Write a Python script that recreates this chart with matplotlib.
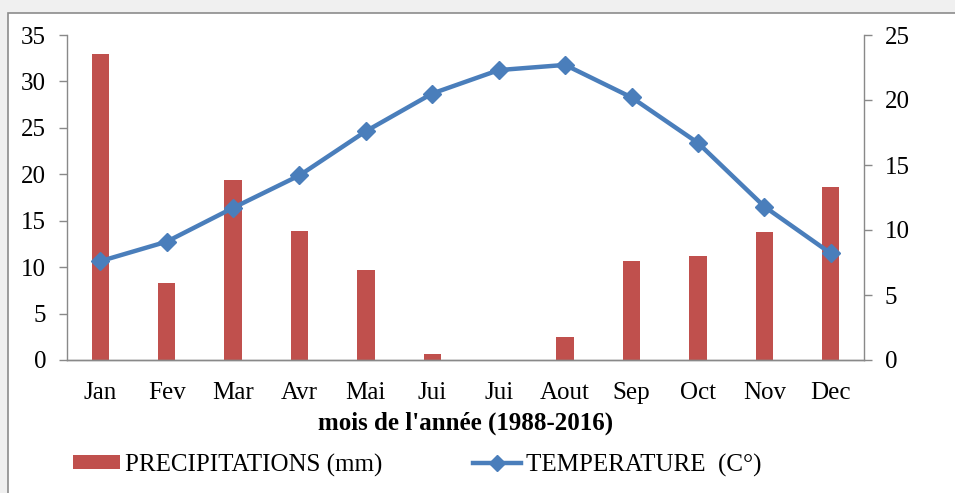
import matplotlib
matplotlib.use("Agg")
import matplotlib.pyplot as plt
from matplotlib.patches import Rectangle
from matplotlib.lines import Line2D
from matplotlib.patches import Patch

months = ["Jan", "Fev", "Mar", "Avr", "Mai", "Jui", "Jui", "Aout", "Sep", "Oct", "Nov", "Dec"]
precipitation = [33.0, 8.3, 19.4, 13.9, 9.7, 0.7, 0.0, 2.5, 10.7, 11.2, 13.8, 18.6]
temperature = [7.6, 9.1, 11.7, 14.2, 17.6, 20.5, 22.3, 22.7, 20.2, 16.7, 11.8, 8.2]

bar_color = "#C0504D"
line_color = "#4A7EBB"
axis_color = "#898989"

plt.rcParams["font.family"] = ["Liberation Serif", "DejaVu Serif"]
FS = 18

fig = plt.figure(figsize=(9.55, 4.93), dpi=100)
fig.patch.set_facecolor("#F0F0F0")
# white chart area with a thin gray frame
fig.add_artist(Rectangle((8 / 955, -0.01), 1.0, 1 - 13 / 493 + 0.01,
                         transform=fig.transFigure, facecolor="white",
                         edgecolor="#8C8C8C", linewidth=1.2, zorder=0))

ax = fig.add_axes([67 / 955, 1 - 360 / 493, 797 / 955, 325 / 493])
ax.set_facecolor("none")
x = list(range(len(months)))
ax.bar(x, precipitation, width=0.26, color=bar_color, zorder=2)
ax.set_xlim(-0.5, len(months) - 0.5)
ax.set_ylim(0, 35)
ax.set_yticks(range(0, 36, 5))
ax.set_xticks(x)
ax.set_xticklabels(months)

ax2 = ax.twinx()
ax2.plot(x, temperature, color=line_color, linewidth=3.2, marker="D",
         markersize=9.5, zorder=3)
ax2.set_ylim(0, 25)
ax2.set_yticks(range(0, 26, 5))

for a in (ax, ax2):
    a.spines["top"].set_visible(False)
    for s in ("left", "right", "bottom"):
        a.spines[s].set_color(axis_color)
        a.spines[s].set_linewidth(1.0)
    a.tick_params(axis="y", length=6, width=1.0, color=axis_color,
                  labelsize=FS, pad=9)
    a.tick_params(axis="x", length=0, labelsize=FS, pad=16)
ax.spines["right"].set_visible(False)
ax2.spines["left"].set_visible(False)

ax.set_xlabel("mois de l'année (1988-2016)", fontsize=FS, fontweight="bold",
              labelpad=5)

handles = [Patch(facecolor=bar_color, edgecolor="none"),
           Line2D([0], [0], color=line_color, linewidth=3.2, marker="D",
                  markersize=8)]
labels = ["PRECIPITATIONS (mm)", "TEMPERATURE  (C°)"]
fig.legend(handles, labels, loc="center", bbox_to_anchor=(417 / 955, 1 - 465 / 493),
           ncol=2, frameon=False, fontsize=FS, handlelength=1.9,
           handleheight=0.5, handletextpad=0.2, columnspacing=3.64,
           borderpad=0.0)

fig.savefig("out.png", dpi=100, facecolor=fig.get_facecolor())
